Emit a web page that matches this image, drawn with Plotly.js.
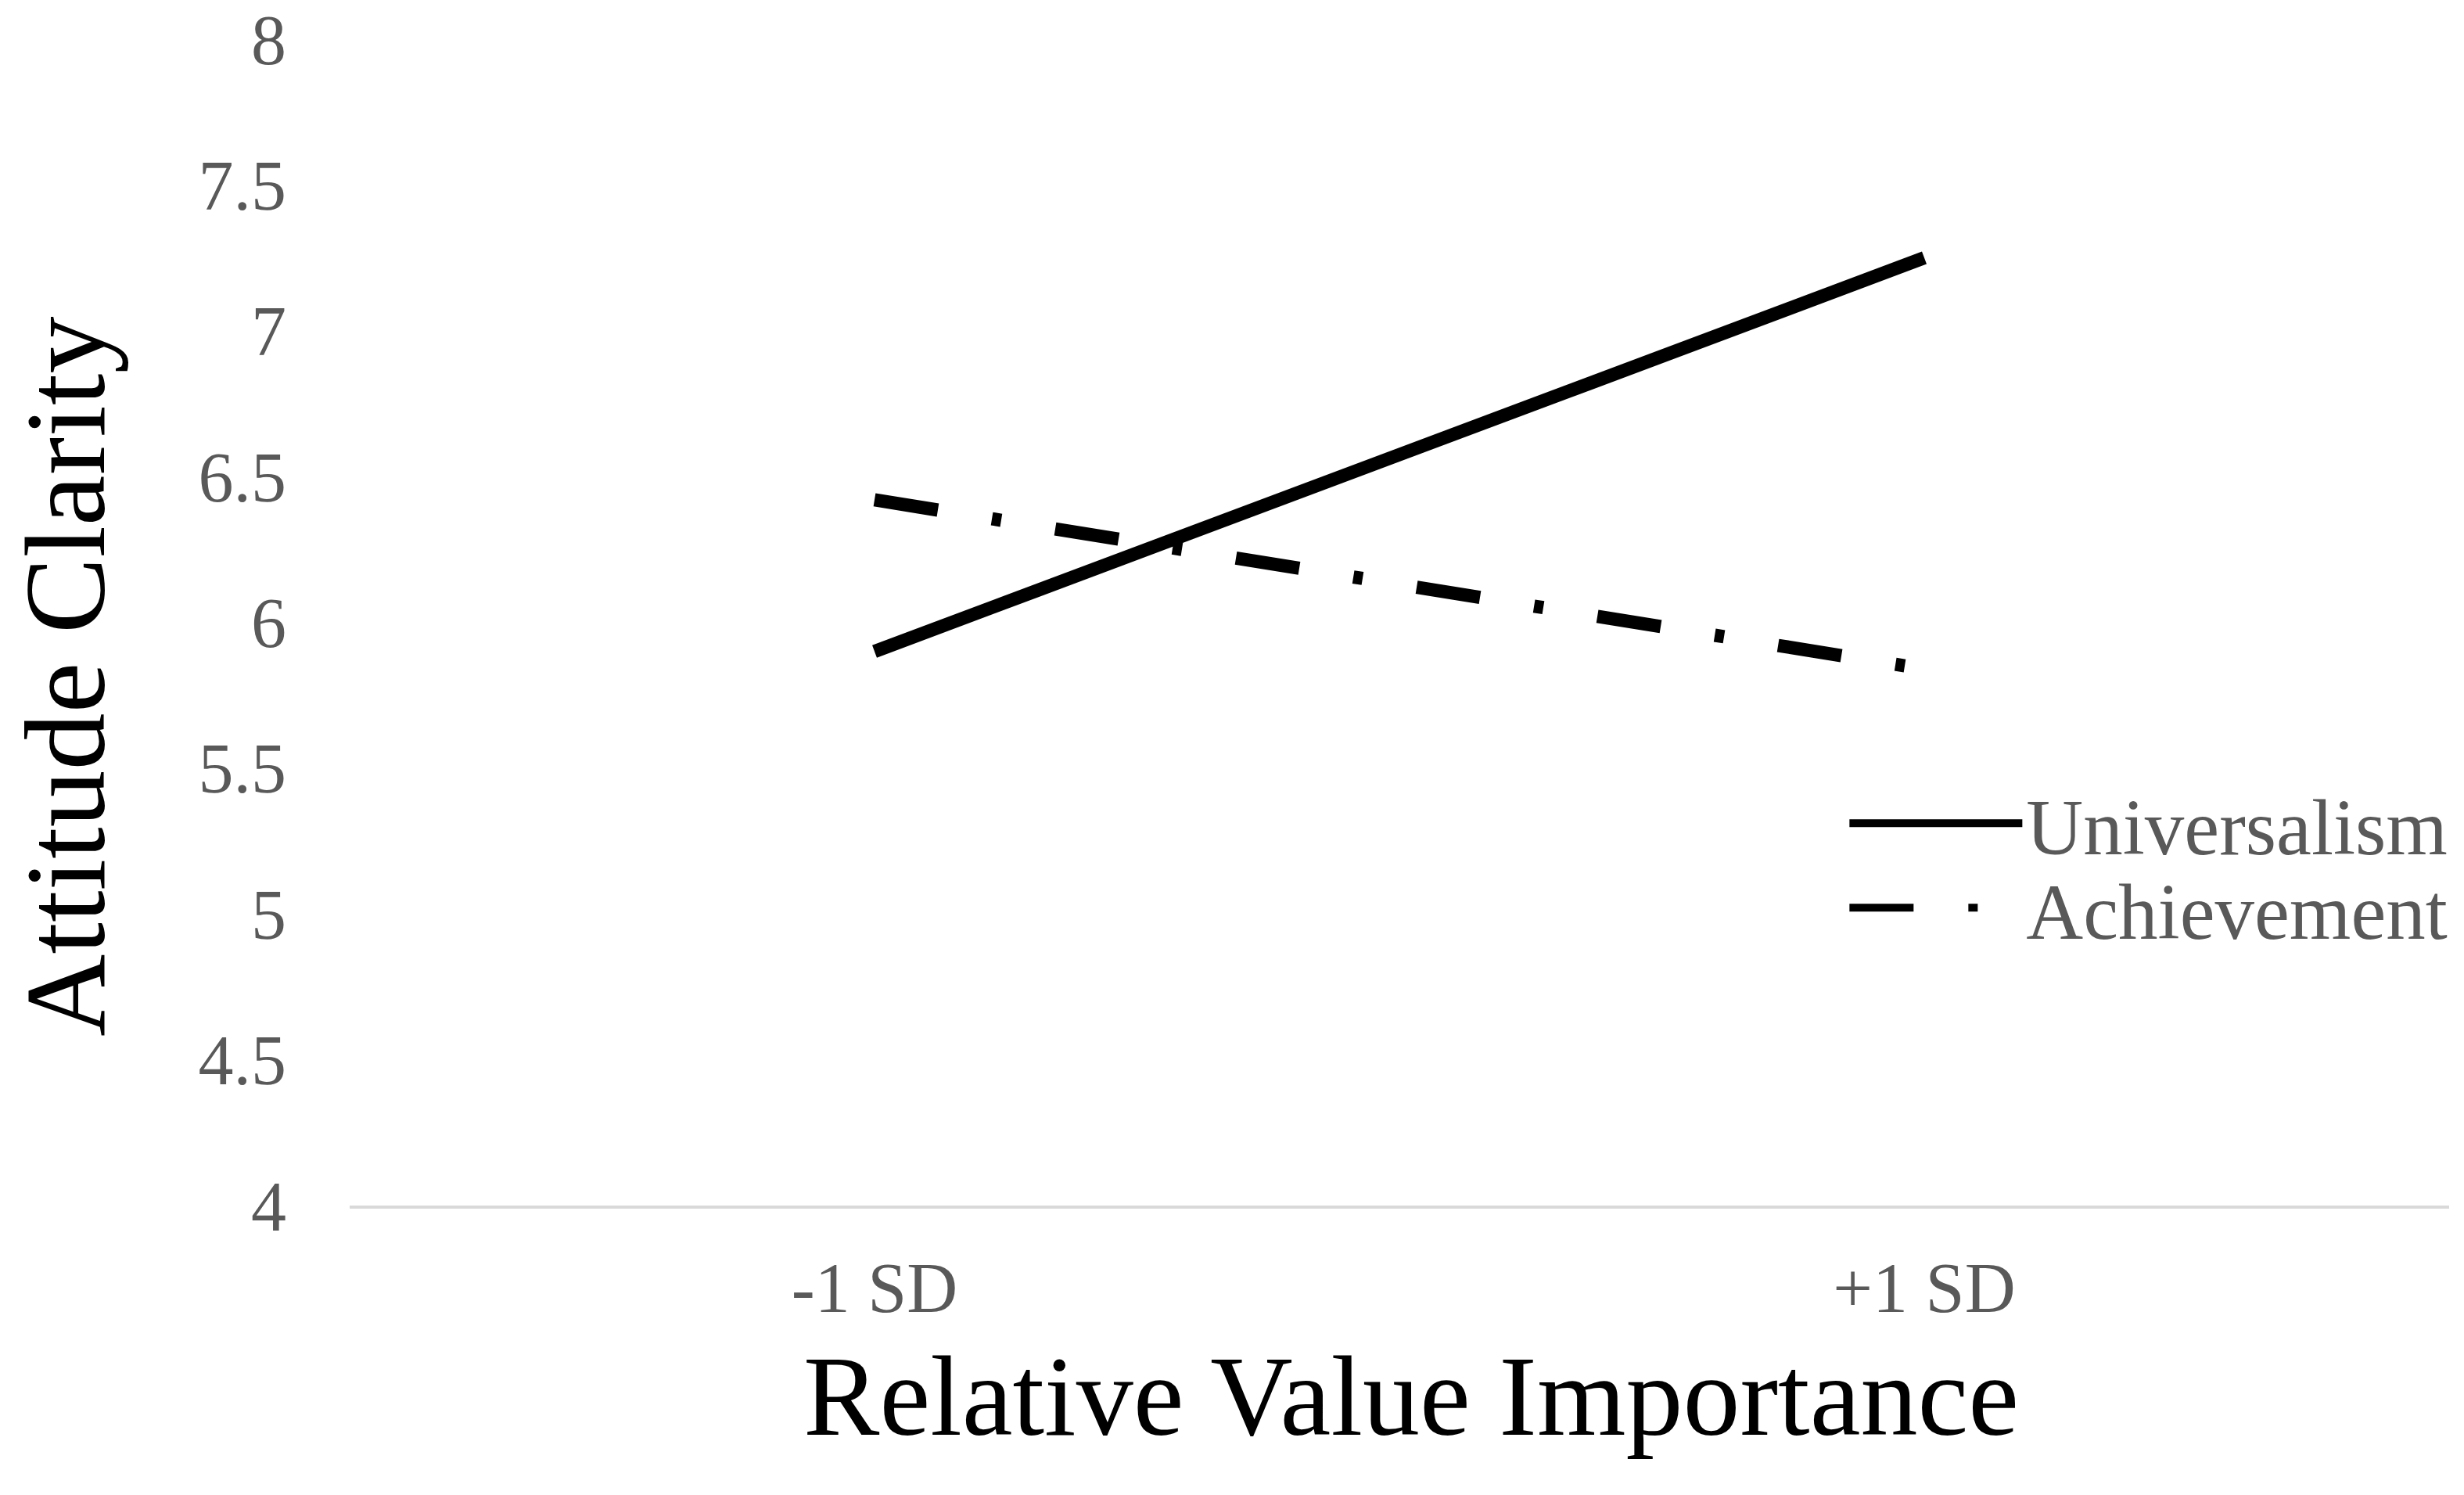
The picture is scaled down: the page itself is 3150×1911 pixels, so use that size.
<!DOCTYPE html>
<html>
<head>
<meta charset="utf-8">
<script src="https://cdn.plot.ly/plotly-3.0.1.min.js"></script>
<style>
  body { margin: 0; background: #fff; }
  #plot { width: 3150px; height: 1911px; }
</style>
</head>
<body>
<div id="plot"></div>
<script>
// Values
var levels = ["-1 SD", "+1 SD"];
var universalism = [5.9, 7.25];
var achievement = [6.42, 5.84];
var yTicks = [4, 4.5, 5, 5.5, 6, 6.5, 7, 7.5, 8];

var serif = "Liberation Serif, Times New Roman, serif";

var trace1 = {
    x: levels,
    y: universalism,
    name: "Universalism",
    type: "scatter",
    mode: "lines",
    line: {color: "#000000", width: 17},
    legend: "legend"
};

var trace2 = {
    x: levels,
    y: achievement,
    name: "Achievement",
    type: "scatter",
    mode: "lines",
    line: {color: "#000000", width: 17, dash: "82px,70px,12px,70px"},
    legend: "legend2"
};

var data = [trace1, trace2];

var legendFont = {family: serif, size: 101, color: "#595959"};

var layout = {
    width: 3150,
    height: 1911,
    margin: {l: 447, r: 19, t: 50, b: 370},
    paper_bgcolor: "#ffffff",
    plot_bgcolor: "#ffffff",
    showlegend: true,
    xaxis: {
        type: "category",
        range: [-0.5, 1.5],
        showgrid: false,
        zeroline: false,
        showline: true,
        linecolor: "#d9d9d9",
        linewidth: 4,
        ticks: "",
        ticklabelstandoff: 24,
        tickfont: {family: serif, size: 90, color: "#595959"}
    },
    yaxis: {
        range: [4, 8],
        tickvals: yTicks,
        ticktext: yTicks.map(String),
        showgrid: false,
        zeroline: false,
        showline: false,
        ticks: "",
        ticklabelstandoff: 80,
        ticklabeloverflow: "allow",
        tickfont: {family: serif, size: 90, color: "#595959"}
    },
    legend: {
        x: 0.7125, y: 0.3275, xanchor: "left", yanchor: "middle",
        bgcolor: "rgba(0,0,0,0)", itemwidth: 221, font: legendFont
    },
    legend2: {
        x: 0.7125, y: 0.2552, xanchor: "left", yanchor: "middle",
        bgcolor: "rgba(0,0,0,0)", itemwidth: 221, font: legendFont
    },
    // axis titles placed as annotations to match the original offsets
    annotations: [{
        text: "Attitude Clarity",
        xref: "paper", yref: "paper",
        x: -0.1352, y: 0.4534,
        xanchor: "center", yanchor: "middle",
        textangle: -90,
        showarrow: false,
        font: {family: serif, size: 146, color: "#000000"}
    }, {
        text: "Relative Value Importance",
        xref: "paper", yref: "paper",
        x: 0.5056, y: -0.1636,
        xanchor: "center", yanchor: "middle",
        showarrow: false,
        font: {family: serif, size: 146, color: "#000000"}
    }]
};

Plotly.newPlot("plot", data, layout, {displayModeBar: false});
</script>
</body>
</html>
